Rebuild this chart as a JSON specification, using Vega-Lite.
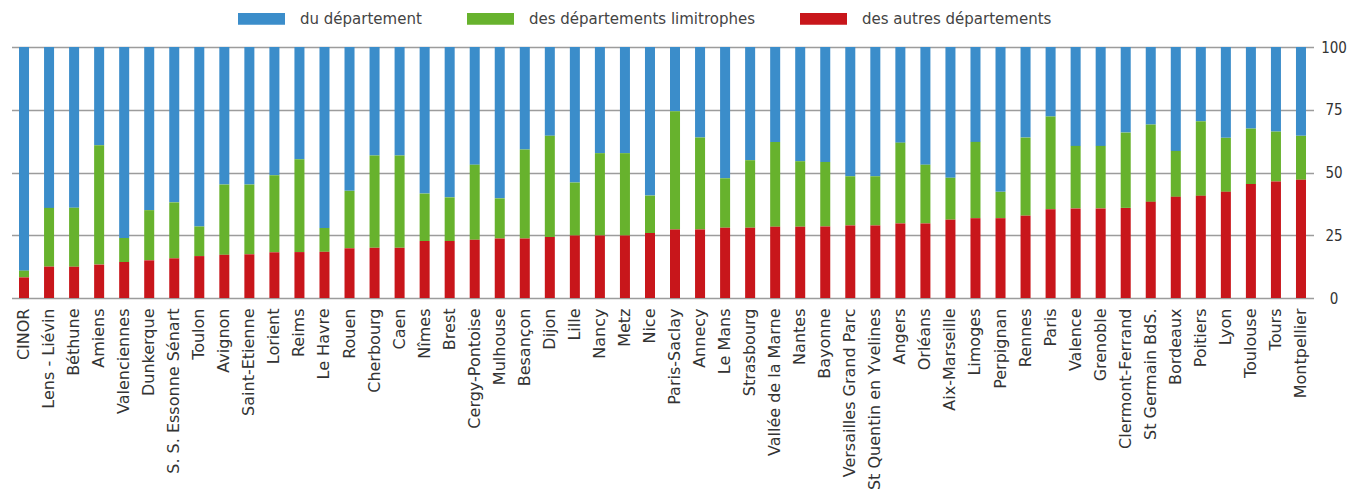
{
  "$schema": "https://vega.github.io/schema/vega-lite/v6.json",
  "width": 1302,
  "height": 251,
  "autosize": {"type": "none"},
  "padding": {"left": 11.5, "top": 47, "right": 45.5, "bottom": 192},
  "background": "white",
  "config": {"view": {"stroke": null}},
  "data": {
    "values": [
      {"ville": "CINOR", "des autres départements": 8.2, "des départements limitrophes": 2.7, "du département": 89.1},
      {"ville": "Lens - Liévin", "des autres départements": 12.5, "des départements limitrophes": 23.4, "du département": 64.1},
      {"ville": "Béthune", "des autres départements": 12.5, "des départements limitrophes": 23.5, "du département": 64.0},
      {"ville": "Amiens", "des autres départements": 13.3, "des départements limitrophes": 47.6, "du département": 39.1},
      {"ville": "Valenciennes", "des autres départements": 14.3, "des départements limitrophes": 9.6, "du département": 76.1},
      {"ville": "Dunkerque", "des autres départements": 15.0, "des départements limitrophes": 20.0, "du département": 65.0},
      {"ville": "S. S. Essonne Sénart", "des autres départements": 15.8, "des départements limitrophes": 22.3, "du département": 61.9},
      {"ville": "Toulon", "des autres départements": 16.7, "des départements limitrophes": 11.8, "du département": 71.5},
      {"ville": "Avignon", "des autres départements": 17.2, "des départements limitrophes": 28.0, "du département": 54.8},
      {"ville": "Saint-Etienne", "des autres départements": 17.4, "des départements limitrophes": 27.8, "du département": 54.8},
      {"ville": "Lorient", "des autres départements": 18.2, "des départements limitrophes": 30.7, "du département": 51.1},
      {"ville": "Reims", "des autres départements": 18.3, "des départements limitrophes": 37.0, "du département": 44.7},
      {"ville": "Le Havre", "des autres départements": 18.4, "des départements limitrophes": 9.5, "du département": 72.1},
      {"ville": "Rouen", "des autres départements": 19.8, "des départements limitrophes": 22.9, "du département": 57.3},
      {"ville": "Cherbourg", "des autres départements": 20.0, "des départements limitrophes": 36.8, "du département": 43.2},
      {"ville": "Caen", "des autres départements": 20.0, "des départements limitrophes": 36.8, "du département": 43.2},
      {"ville": "Nîmes", "des autres départements": 22.7, "des départements limitrophes": 18.9, "du département": 58.4},
      {"ville": "Brest", "des autres départements": 22.7, "des départements limitrophes": 17.4, "du département": 59.9},
      {"ville": "Cergy-Pontoise", "des autres départements": 23.2, "des départements limitrophes": 29.9, "du département": 46.9},
      {"ville": "Mulhouse", "des autres départements": 23.7, "des départements limitrophes": 16.0, "du département": 60.3},
      {"ville": "Besançon", "des autres départements": 23.7, "des départements limitrophes": 35.5, "du département": 40.8},
      {"ville": "Dijon", "des autres départements": 24.3, "des départements limitrophes": 40.3, "du département": 35.4},
      {"ville": "Lille", "des autres départements": 24.9, "des départements limitrophes": 21.1, "du département": 54.0},
      {"ville": "Nancy", "des autres départements": 24.9, "des départements limitrophes": 32.8, "du département": 42.3},
      {"ville": "Metz", "des autres départements": 24.9, "des départements limitrophes": 32.8, "du département": 42.3},
      {"ville": "Nice", "des autres départements": 25.9, "des départements limitrophes": 14.9, "du département": 59.2},
      {"ville": "Paris-Saclay", "des autres départements": 27.3, "des départements limitrophes": 47.1, "du département": 25.6},
      {"ville": "Annecy", "des autres départements": 27.3, "des départements limitrophes": 36.6, "du département": 36.1},
      {"ville": "Le Mans", "des autres départements": 28.0, "des départements limitrophes": 19.7, "du département": 52.3},
      {"ville": "Strasbourg", "des autres départements": 28.0, "des départements limitrophes": 26.9, "du département": 45.1},
      {"ville": "Vallée de la Marne", "des autres départements": 28.4, "des départements limitrophes": 33.8, "du département": 37.8},
      {"ville": "Nantes", "des autres départements": 28.4, "des départements limitrophes": 26.1, "du département": 45.5},
      {"ville": "Bayonne", "des autres départements": 28.5, "des départements limitrophes": 25.7, "du département": 45.8},
      {"ville": "Versailles Grand Parc", "des autres départements": 28.9, "des départements limitrophes": 19.6, "du département": 51.5},
      {"ville": "St Quentin en Yvelines", "des autres départements": 28.9, "des départements limitrophes": 19.6, "du département": 51.5},
      {"ville": "Angers", "des autres départements": 29.7, "des départements limitrophes": 32.2, "du département": 38.1},
      {"ville": "Orléans", "des autres départements": 29.7, "des départements limitrophes": 23.4, "du département": 46.9},
      {"ville": "Aix-Marseille", "des autres départements": 31.2, "des départements limitrophes": 16.7, "du département": 52.1},
      {"ville": "Limoges", "des autres départements": 31.8, "des départements limitrophes": 30.4, "du département": 37.8},
      {"ville": "Perpignan", "des autres départements": 31.8, "des départements limitrophes": 10.5, "du département": 57.7},
      {"ville": "Rennes", "des autres départements": 32.8, "des départements limitrophes": 31.1, "du département": 36.1},
      {"ville": "Paris", "des autres départements": 35.4, "des départements limitrophes": 36.9, "du département": 27.7},
      {"ville": "Valence", "des autres départements": 35.7, "des départements limitrophes": 24.9, "du département": 39.4},
      {"ville": "Grenoble", "des autres départements": 35.7, "des départements limitrophes": 24.9, "du département": 39.4},
      {"ville": "Clermont-Ferrand", "des autres départements": 35.9, "des départements limitrophes": 30.0, "du département": 34.1},
      {"ville": "St Germain BdS.", "des autres départements": 38.3, "des départements limitrophes": 30.8, "du département": 30.9},
      {"ville": "Bordeaux", "des autres départements": 40.3, "des départements limitrophes": 18.3, "du département": 41.4},
      {"ville": "Poitiers", "des autres départements": 40.7, "des départements limitrophes": 29.7, "du département": 29.6},
      {"ville": "Lyon", "des autres départements": 42.3, "des départements limitrophes": 21.5, "du département": 36.2},
      {"ville": "Toulouse", "des autres départements": 45.4, "des départements limitrophes": 22.1, "du département": 32.5},
      {"ville": "Tours", "des autres départements": 46.4, "des départements limitrophes": 19.9, "du département": 33.7},
      {"ville": "Montpellier", "des autres départements": 47.1, "des départements limitrophes": 17.5, "du département": 35.4}
    ]
  },
  "transform": [
    {"fold": ["du département", "des départements limitrophes", "des autres départements"], "as": ["serie", "pct"]}
  ],
  "mark": {"type": "bar"},
  "encoding": {
    "x": {
      "field": "ville",
      "type": "nominal",
      "sort": null,
      "scale": {"paddingInner": 0.6, "paddingOuter": 0.3},
      "axis": {
        "title": null,
        "domain": false,
        "ticks": false,
        "labelAngle": -90,
        "labelFont": "DejaVu Sans",
        "labelFontSize": 16,
        "labelColor": "#333333",
        "labelPadding": 10,
        "labelOverlap": false,
        "labelLimit": 300
      }
    },
    "y": {
      "field": "pct",
      "type": "quantitative",
      "stack": "zero",
      "scale": {"domain": [0, 100], "nice": false},
      "axis": {
        "orient": "right",
        "title": null,
        "values": [0, 25, 50, 75, 100],
        "domain": false,
        "ticks": false,
        "grid": true,
        "gridColor": "#9c9c9c",
        "gridWidth": 1.6,
        "labelFont": "Liberation Sans Narrow, DejaVu Sans Condensed, sans-serif",
        "labelFontSize": 15,
        "labelColor": "#333333",
        "labelAlign": "center",
        "labelPadding": 20
      }
    },
    "color": {
      "field": "serie",
      "type": "nominal",
      "scale": {
        "domain": ["du département", "des départements limitrophes", "des autres départements"],
        "range": ["#3b8dca", "#67b22d", "#c8161b"]
      },
      "legend": {
        "title": null,
        "orient": "none",
        "direction": "horizontal",
        "legendX": 226.5,
        "legendY": -52,
        "symbolType": "M-1,-0.25L1,-0.25L1,0.25L-1,0.25Z",
        "symbolSize": 2209,
        "symbolStrokeWidth": 0,
        "symbolOpacity": 1,
        "labelFont": "DejaVu Sans",
        "labelFontSize": 15,
        "labelColor": "#444444",
        "labelOffset": 15,
        "columnPadding": 45,
        "labelLimit": 400
      }
    },
    "order": {"field": "serie", "sort": "ascending"}
  }
}
